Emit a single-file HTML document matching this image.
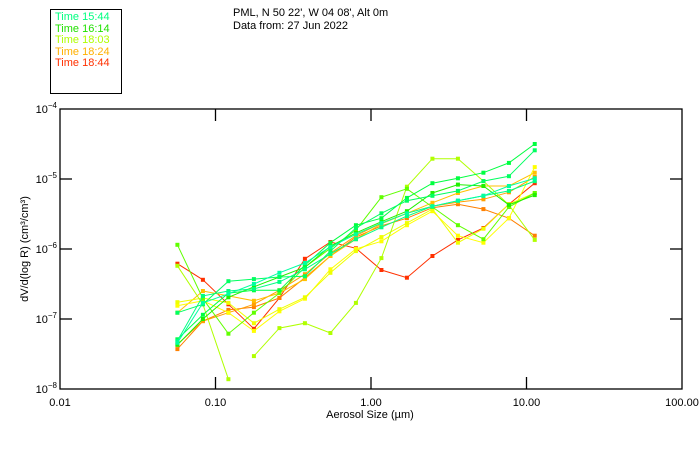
<!DOCTYPE html>
<html><head><meta charset="utf-8">
<style>
html,body{margin:0;padding:0;background:#fff;}
svg{display:block;font-family:"Liberation Sans","DejaVu Sans",sans-serif;}
</style></head>
<body>
<svg id="chart" width="700" height="450" viewBox="0 0 700 450" xmlns="http://www.w3.org/2000/svg">
  <rect x="0" y="0" width="700" height="450" fill="#fff"/>
  <g>
    <rect x="50.5" y="9.5" width="71" height="84" fill="none" stroke="#000"/>
    <text x="55" y="20" font-size="11" fill="#00ff80">Time 15:44</text>
    <text x="55" y="32" font-size="11" fill="#20e000">Time 16:14</text>
    <text x="55" y="43" font-size="11" fill="#b0ff00">Time 18:03</text>
    <text x="55" y="55" font-size="11" fill="#ffb000">Time 18:24</text>
    <text x="55" y="66" font-size="11" fill="#ff3000">Time 18:44</text>
  </g>
  <text x="233" y="16" font-size="11" fill="#000">PML, N 50 22', W 04 08', Alt 0m</text>
  <text x="233" y="29" font-size="11" fill="#000">Data from: 27 Jun 2022</text>
  <g id="axes"></g>
  <g id="series"></g>
  <rect x="60" y="109" width="622" height="280" fill="none" stroke="#000" stroke-width="1.3"/>
  <text x="370" y="418" font-size="11" text-anchor="middle" fill="#000">Aerosol Size (µm)</text>
  <text transform="translate(28,249) rotate(-90)" font-size="11" text-anchor="middle" fill="#000">dV/d(log R)  (cm³/cm³)</text>
</svg>
<script>
const xTickValues = [0.01, 0.1, 1, 10, 100];
const xTickLabels = ["0.01", "0.10", "1.00", "10.00", "100.00"];
const yTickExps = [-4, -5, -6, -7, -8];
const sizeLogs = [-1.245,-1.081,-0.917,-0.753,-0.589,-0.425,-0.261,-0.097,0.067,0.231,0.395,0.559,0.723,0.887,1.053];
const seriesColors = ["#ff3000","#ff8000","#ffa000","#ffc000","#ffff00","#eeff00","#b0ff00","#b0ff00","#60ff00","#20f000","#00ff40","#00ff60","#00ff80","#00ffa0"];
const seriesValues = [
 [-6.21,-6.44,-6.79,-7.14,-6.70,-6.14,-5.90,-5.99,-6.30,-6.41,-6.10,-5.87,-5.70,-5.36,-5.06],
 [-7.43,-7.03,-6.87,-6.83,-6.70,-6.41,-6.10,-5.83,-5.67,-5.56,-5.41,-5.36,-5.43,-5.56,-5.81],
 [-7.36,-7.03,-6.91,-6.79,-6.59,-6.36,-6.06,-5.81,-5.63,-5.49,-5.39,-5.33,-5.29,-5.19,-4.97],
 [-6.91,-6.60,-6.67,-6.74,-6.63,-6.43,-6.10,-5.86,-5.64,-5.49,-5.34,-5.20,-5.10,-5.10,-4.91],
 [-6.81,-6.74,-6.91,-7.17,-6.89,-6.71,-6.29,-6.00,-5.89,-5.66,-5.46,-5.81,-5.91,-5.56,-4.83],
 [-6.76,-6.70,-6.77,-7.06,-6.86,-6.69,-6.34,-6.03,-5.83,-5.63,-5.43,-5.91,-5.71,-5.36,-5.20],
 [-6.24,-6.79,-7.86,null,null,null,null,null,null,null,null,null,null,null,null],
 [null,null,null,-7.53,-7.13,-7.06,-7.20,-6.77,-6.13,-5.11,-4.71,-4.71,-5.03,-5.37,-5.87],
 [-5.94,-6.71,-7.21,-6.91,-6.63,-6.26,-5.99,-5.73,-5.26,-5.14,-5.40,-5.66,-5.86,-5.40,-5.20],
 [-7.37,-7.00,-6.69,-6.54,-6.40,-6.26,-5.96,-5.77,-5.61,-5.46,-5.20,-5.08,-5.10,-5.37,-5.23],
 [-7.29,-6.94,-6.63,-6.59,-6.59,-6.23,-5.91,-5.66,-5.56,-5.27,-5.06,-4.99,-4.91,-4.77,-4.50],
 [-6.91,-6.79,-6.46,-6.43,-6.40,-6.39,-6.03,-5.70,-5.49,-5.31,-5.24,-5.17,-5.03,-4.96,-4.59],
 [-7.31,-6.67,-6.60,-6.57,-6.47,-6.29,-6.07,-5.86,-5.69,-5.53,-5.39,-5.31,-5.24,-5.17,-5.03],
 [-7.34,-6.77,-6.64,-6.50,-6.34,-6.20,-5.97,-5.79,-5.63,-5.49,-5.39,-5.31,-5.24,-5.10,-4.99]
];
const NS = "http://www.w3.org/2000/svg";
const X0 = 60, X1 = 682, Y0 = 109, Y1 = 389;
function xScale(lg){ return X0 + (lg + 2) / 4 * (X1 - X0); }
function yScale(lg){ return Y0 + (-4 - lg) / 4 * (Y1 - Y0); }
const axes = document.getElementById('axes');
const series = document.getElementById('series');
function mk(tag, attrs, parent){ const e = document.createElementNS(NS, tag); for (const k in attrs) e.setAttribute(k, attrs[k]); parent.appendChild(e); return e; }
xTickValues.forEach((v, i) => {
  const x = xScale(Math.log10(v));
  if (i > 0 && i < xTickValues.length - 1) {
    const t1 = mk('line', {x1:x, x2:x, y1:Y1, y2:Y1-12, stroke:'#000', 'stroke-width':1.3}, axes);
    
    
    const t2 = mk('line', {x1:x, x2:x, y1:Y0, y2:Y0+12, stroke:'#000', 'stroke-width':1.3}, axes);
    
    
  }
  const lbl = mk('text', {x:x, y:Y1+17, 'font-size':11, 'text-anchor':'middle', fill:'#000'}, axes);
  lbl.textContent = xTickLabels[i];
  
  
});
yTickExps.forEach((e, i) => {
  const y = yScale(e);
  if (i > 0 && i < yTickExps.length - 1) {
    const t1 = mk('line', {x1:X0, x2:X0+12, y1:y, y2:y, stroke:'#000', 'stroke-width':1.3}, axes);
    
    
    const t2 = mk('line', {x1:X1, x2:X1-12, y1:y, y2:y, stroke:'#000', 'stroke-width':1.3}, axes);
    
    
  }
  const lbl = mk('text', {x:X0-3, y:y+4, 'font-size':11, 'text-anchor':'end', fill:'#000'}, axes);
  
  
  lbl.appendChild(document.createTextNode('10'));
  const sup = mk('tspan', {dy:-5, 'font-size':8}, lbl);
  sup.textContent = '\u2212' + (-e);
});
seriesValues.forEach((vals, si) => {
  const col = seriesColors[si];
  const g = mk('g', {}, series);
  
  
  let d = '', pen = false;
  vals.forEach((v, k) => {
    if (v === null) { pen = false; return; }
    d += (pen ? 'L' : 'M') + xScale(sizeLogs[k]).toFixed(1) + ' ' + yScale(v).toFixed(1) + ' ';
    pen = true;
  });
  const p = mk('path', {d:d, fill:'none', stroke:col, 'stroke-width':1}, g);
  
  
  vals.forEach((v, k) => {
    if (v === null) return;
    const r = mk('rect', {x:xScale(sizeLogs[k])-2, y:yScale(v)-2, width:4, height:4, fill:col}, g);
    
    
  });
});
</script>
</body></html>
